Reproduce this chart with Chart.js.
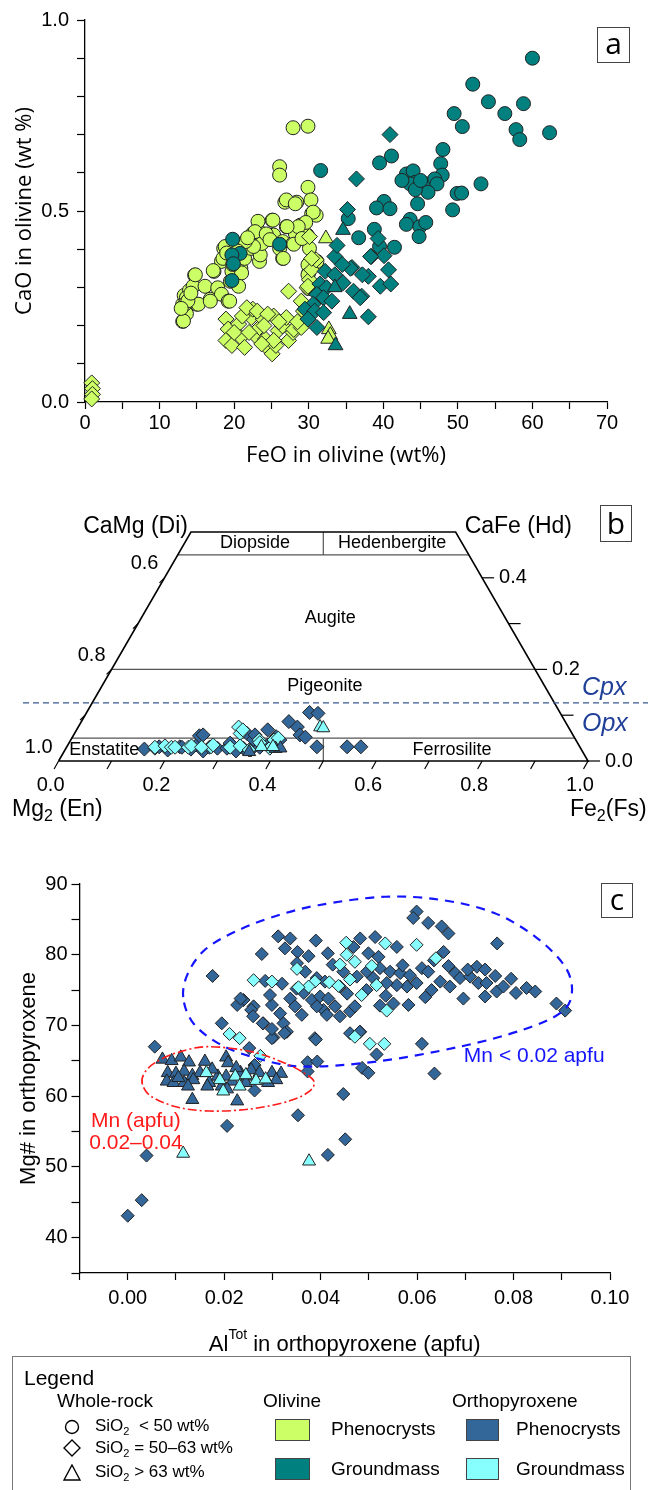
<!DOCTYPE html>
<html>
<head>
<meta charset="utf-8">
<script src="https://cdn.jsdelivr.net/npm/chart.js@4.4.1/dist/chart.umd.min.js"></script>
<style>
  body { margin: 0; background: #fff; }
  #page { position: relative; width: 656px; height: 1490px; overflow: hidden; font-family: "Liberation Sans", Arial, sans-serif; color: #000; }
  canvas { position: absolute; left: 0; }
  .tag { position: absolute; box-sizing: border-box; border: 1px solid #444; background: #fff; font-family: "Open Sans", sans-serif; font-size: 30px; text-align: center; }
  #legend { position: absolute; left: 12px; top: 1356px; width: 619px; height: 150px; box-sizing: border-box; border: 1.5px solid #777; }
  #legend div { position: absolute; white-space: nowrap; }
  .lt { font-size: 19px; line-height: 20px; }
  .sw { width: 35px; height: 22px; box-sizing: border-box; border: 1px solid #444; }
  .si { font-size: 17px; line-height: 18px; }
  .si sub { font-size: 11px; }
</style>
</head>
<body>
<div id="page">
  <canvas id="grafA" width="656" height="470" style="top:0"></canvas>
  <canvas id="grafB" width="656" height="360" style="top:470px"></canvas>
  <canvas id="grafC" width="656" height="530" style="top:830px"></canvas>

  <div class="tag" style="left:597px;top:27px;width:33px;height:36px;line-height:30px">a</div>
  <div class="tag" style="left:600px;top:505px;width:32px;height:37px;line-height:33px">b</div>
  <div class="tag" style="left:601px;top:883px;width:32px;height:35px;line-height:30px">c</div>

  <div id="legend">
    <div style="left:11px;top:9px;font-size:21px">Legend</div>
    <div class="lt" style="left:44px;top:34px">Whole-rock</div>
    <div style="left:50px;top:61px"><svg width="18" height="18"><circle cx="9" cy="9" r="6.5" fill="none" stroke="#000" stroke-width="1.4"/></svg></div>
    <div class="si" style="left:82px;top:60px">SiO<sub>2</sub>&nbsp;&nbsp;&lt; 50 wt%</div>
    <div style="left:50px;top:82px"><svg width="18" height="18"><polygon points="9,1 17,9 9,17 1,9" fill="none" stroke="#000" stroke-width="1.4"/></svg></div>
    <div class="si" style="left:82px;top:82px">SiO<sub>2</sub> = 50–63 wt%</div>
    <div style="left:50px;top:107px"><svg width="18" height="18"><polygon points="9,1 17,16 1,16" fill="none" stroke="#000" stroke-width="1.4"/></svg></div>
    <div class="si" style="left:82px;top:106px">SiO<sub>2</sub> &gt; 63 wt%</div>

    <div class="lt" style="left:250px;top:34px">Olivine</div>
    <div class="sw" style="left:262px;top:62px;background:#CCFF66"></div>
    <div class="lt" style="left:318px;top:62px">Phenocrysts</div>
    <div class="sw" style="left:262px;top:101px;background:#00807F"></div>
    <div class="lt" style="left:318px;top:102px">Groundmass</div>

    <div class="lt" style="left:439px;top:34px">Orthopyroxene</div>
    <div class="sw" style="left:453px;top:62px;width:33px;background:#336699"></div>
    <div class="lt" style="left:503px;top:62px">Phenocrysts</div>
    <div class="sw" style="left:453px;top:101px;width:33px;background:#88FFFF"></div>
    <div class="lt" style="left:503px;top:102px">Groundmass</div>
  </div>
</div>

<script>
// ---------- painel a: CaO x FeO na olivina ----------
const aOlPhenoCircle = [
  [13.1,0.211],[13.6,0.231],[13.1,0.256],[13.3,0.279],[14.0,0.292],[13.6,0.273],[15.0,0.256],[14.7,0.332],
  [14.5,0.303],[16.1,0.303],[16.8,0.269],[17.3,0.342],[17.8,0.299],[18.3,0.282],[18.3,0.368],[18.6,0.402],
  [19.2,0.264],[19.5,0.316],[19.7,0.342],[20.0,0.381],[20.3,0.411],[20.9,0.350],[21.4,0.376],[22.3,0.402],
  [22.8,0.420],[22.5,0.441],[23.3,0.447],[23.4,0.368],[23.5,0.385],[23.7,0.415],[25.1,0.476],[25.3,0.437],
  [26.5,0.376],[26.5,0.420],[27.0,0.459],[27.9,0.415],[28.2,0.441],[28.4,0.523],[28.9,0.463],[29.8,0.437],
  [30.1,0.402],[30.1,0.363],[30.0,0.338],[30.0,0.297],[30.4,0.493],[31.0,0.489],[26.8,0.523],
  [27.9,0.718],[29.9,0.722],[26.1,0.616],[26.1,0.594],[29.9,0.562],[27.0,0.529],[28.2,0.519],[30.3,0.529],
  [30.6,0.497],[29.6,0.470],[28.6,0.459],[27.1,0.459],[25.2,0.476],[23.2,0.473],[22.8,0.446],[22.6,0.407],
  [21.5,0.420],[18.8,0.407],[18.5,0.376],[26.1,0.402],[26.6,0.376],[28.0,0.413],[29.1,0.428],[29.9,0.359],
  [29.9,0.333],[31.1,0.368],[21.0,0.338],[20.6,0.303],[19.4,0.264],[17.2,0.344],[14.8,0.333],[13.4,0.256],
  [13.2,0.212],[15.2,0.256],[16.8,0.264],[13.8,0.265],[14.2,0.285],[12.9,0.245],[19.0,0.390],[20.5,0.395],
  [21.8,0.430],[24.3,0.440],[24.8,0.425],[19.8,0.360]
];
const aOlPhenoDiamond = [
  [18.9,0.217],[19.2,0.191],[18.9,0.161],[19.7,0.148],[20.6,0.204],[20.9,0.169],[21.4,0.143],[22.3,0.221],
  [22.5,0.243],[22.8,0.174],[23.4,0.195],[23.9,0.217],[24.2,0.165],[24.8,0.135],[25.1,0.126],[25.3,0.225],
  [25.6,0.148],[25.9,0.187],[26.5,0.199],[27.0,0.221],[27.3,0.161],[27.9,0.182],[28.0,0.190],[29.0,0.195],
  [27.3,0.290],[29.0,0.264],[29.3,0.238],[29.8,0.299],[30.1,0.320],[30.4,0.346],[31.0,0.372],[30.1,0.433],
  [21.1,0.225],[21.7,0.247],[23.1,0.238],[24.5,0.230],[25.3,0.161],[23.7,0.152],[20.0,0.182],[22.0,0.182],
  [26.0,0.210],[24.0,0.200],[28.5,0.210],[29.9,0.303],[30.4,0.376],
  [0.9,0.050],[1.0,0.035],[1.0,0.020],[0.9,0.008]
];
const aOlPhenoTri = [[32.3,0.428],[32.7,0.190],[32.9,0.175],[32.6,0.165]];
const aOlGmCircle = [
  [60.0,0.900],[52.0,0.832],[54.1,0.786],[58.8,0.781],[56.3,0.755],[49.5,0.755],[50.6,0.721],[57.8,0.713],
  [58.3,0.687],[62.3,0.705],[53.1,0.571],[49.9,0.546],[49.3,0.503],[48.0,0.661],[47.7,0.624],[47.9,0.594],
  [41.1,0.644],[39.5,0.626],[31.6,0.606],[43.1,0.597],[44.0,0.605],[44.3,0.575],[43.6,0.571],[44.9,0.567],
  [45.8,0.571],[46.9,0.584],[47.2,0.571],[46.0,0.549],[44.3,0.556],[50.5,0.547],[44.6,0.519],[40.1,0.525],
  [39.1,0.508],[40.9,0.506],[43.6,0.478],[43.1,0.465],[44.9,0.459],[45.7,0.470],[44.8,0.433],[35.3,0.480],
  [38.8,0.452],[36.7,0.430],[39.5,0.407],[41.5,0.405],[26.1,0.413],[19.8,0.426],[20.8,0.389],[19.7,0.385],
  [19.9,0.362],[19.7,0.318],[45.0,0.580],[42.5,0.580]
];
const aOlGmDiamond = [
  [40.9,0.700],[36.4,0.584],[35.2,0.504],[33.5,0.381],[38.4,0.381],[40.1,0.383],[40.7,0.346],[35.8,0.352],
  [32.2,0.342],[33.5,0.333],[34.6,0.312],[36.0,0.290],[37.1,0.277],[38.0,0.329],[37.2,0.333],[39.6,0.303],
  [41.0,0.309],[31.5,0.309],[32.4,0.299],[31.1,0.282],[32.0,0.273],[33.1,0.264],[30.6,0.256],[29.5,0.243],
  [30.8,0.238],[32.0,0.234],[29.9,0.217],[31.1,0.195],[38.0,0.223],[39.3,0.428],[35.6,0.350],[38.3,0.381],
  [36.9,0.273],[34.5,0.360],[33.8,0.410]
];
const aOlGmTri = [[34.6,0.450],[33.5,0.300],[35.5,0.230],[33.6,0.148]];
const aXTickLabels = [0, 10, 20, 30, 40, 50, 60, 70];
const aYTickLabels = [0, 0.5, 1.0];

// ---------- painel b: quadrilatero En-Fs-Di-Hd (x ao longo da base, Wo) ----------
const bOpxPhenoDia = [
  [0.162,0.026],[0.182,0.028],[0.190,0.031],[0.206,0.024],[0.229,0.031],[0.233,0.030],[0.261,0.035],[0.266,0.055],
  [0.273,0.057],[0.273,0.022],[0.300,0.028],[0.318,0.028],[0.324,0.039],[0.344,0.031],[0.349,0.028],[0.356,0.060],
  [0.363,0.024],[0.368,0.047],[0.371,0.057],[0.395,0.068],[0.395,0.035],[0.406,0.035],[0.411,0.053],[0.418,0.046],
  [0.435,0.086],[0.451,0.074],[0.456,0.057],[0.466,0.052],[0.474,0.106],[0.490,0.104],[0.488,0.031],[0.545,0.031],
  [0.571,0.031],[0.250,0.026],[0.285,0.030],[0.335,0.022],[0.380,0.030]
];
const bOpxGmDia = [
  [0.182,0.030],[0.201,0.033],[0.213,0.030],[0.220,0.030],[0.245,0.030],[0.251,0.033],[0.288,0.031],[0.292,0.035],
  [0.324,0.030],[0.340,0.074],[0.343,0.060],[0.348,0.068],[0.343,0.033],[0.360,0.024],[0.379,0.046],[0.380,0.040],
  [0.399,0.028],[0.407,0.046],[0.415,0.050],[0.270,0.030]
];
const bOpxPhenoTri = [[0.360,0.020],[0.410,0.027],[0.419,0.028]];
const bOpxGmTri = [[0.383,0.031],[0.405,0.031],[0.494,0.074],[0.500,0.072]];
const bBaseTickLabels = ['0.0', '0.2', '0.4', '0.6', '0.8', '1.0'];
const bLeftTickLabels = ['1.0', '0.8', '0.6'];   // Wo = 0, 0.2, 0.4
const bRightTickLabels = ['0.0', '0.2', '0.4'];  // Wo = 0, 0.2, 0.4
const bSideTickWo = [0, 0.1, 0.2, 0.3, 0.4];
const bFieldWo = [0.05, 0.2, 0.45];  // limites Enstatite/Pigeonite/Augite/Diopside
const bCpxOpxWo = 0.127;

// ---------- painel c: Mg# x Al total no ortopiroxenio ----------
const cOpxPhenoDia = [
  [0.0599,86.1],[0.0592,85.2],[0.0623,84.5],[0.0651,84.0],[0.0665,83.0],[0.0766,81.6],[0.0312,82.6],[0.0337,82.3],
  [0.0326,80.9],[0.0278,80.1],[0.0352,80.4],[0.0375,79.8],[0.0482,82.3],[0.0513,82.5],[0.0468,81.1],[0.0499,80.2],
  [0.0520,79.7],[0.0558,81.1],[0.0351,78.8],[0.0368,77.6],[0.0392,76.7],[0.0409,76.2],[0.0447,77.6],[0.0475,76.9],
  [0.0496,77.6],[0.0523,78.1],[0.0544,77.6],[0.0565,77.4],[0.0585,77.1],[0.0610,78.1],[0.0623,77.6],[0.0599,76.0],
  [0.0579,75.5],[0.0558,75.7],[0.0537,76.0],[0.0509,76.7],[0.0648,76.2],[0.0668,75.5],[0.0679,77.4],[0.0689,76.7],
  [0.0710,76.9],[0.0724,78.3],[0.0741,77.9],[0.0727,76.0],[0.0744,76.0],[0.0765,74.8],[0.0779,75.5],[0.0827,75.3],
  [0.0889,73.1],[0.0907,72.1],[0.0696,73.8],[0.0741,74.1],[0.0617,74.0],[0.0523,72.8],[0.0551,73.1],[0.0582,72.9],
  [0.0240,73.6],[0.0261,72.7],[0.0299,72.9],[0.0337,73.8],[0.0347,72.7],[0.0361,71.5],[0.0316,71.7],[0.0323,70.3],
  [0.0281,70.3],[0.0330,69.1],[0.0302,68.3],[0.0382,73.6],[0.0399,74.1],[0.0416,73.8],[0.0406,72.2],[0.0430,72.7],
  [0.0440,71.3],[0.0413,71.5],[0.0392,72.7],[0.0461,72.0],[0.0471,72.7],[0.0388,68.2],[0.0461,68.9],[0.0482,69.1],
  [0.0610,67.4],[0.0176,77.0],[0.0056,67.0],[0.0195,70.3],[0.0227,72.9],[0.0234,73.8],[0.0256,72.2],[0.0260,71.3],
  [0.0280,70.3],[0.0252,66.8],[0.0299,68.2],[0.0325,68.9],[0.0299,69.5],[0.0390,68.0],[0.0373,64.8],[0.0393,64.9],
  [0.0373,63.5],[0.0486,64.0],[0.0499,63.3],[0.0636,63.2],[0.0516,65.9],[0.0481,69.1],[0.0447,60.3],[0.0353,57.3],
  [0.0206,55.8],[0.0039,51.6],[0.0029,45.3],[0.0000,43.1],[0.0415,51.7],[0.0451,53.9],[0.0263,60.8],[0.0263,64.4],
  [0.0440,75.5],[0.0455,74.5],[0.0495,75.0],[0.0535,74.2],[0.0570,78.5],[0.0635,79.2],[0.0655,80.4],[0.0705,77.9],
  [0.0762,77.0],[0.0795,76.6],[0.0805,74.6],[0.0845,74.8],[0.0665,78.4],[0.0630,75.0],[0.0425,78.6],[0.0415,80.2],
  [0.0390,82.0],[0.0350,75.2],[0.0320,75.9],[0.0285,76.3],[0.0295,74.3],[0.0365,74.6]
];
const cOpxGmDia = [
  [0.0453,81.7],[0.0534,81.6],[0.0599,81.4],[0.0639,79.5],[0.0454,80.0],[0.0471,79.0],[0.0440,78.6],[0.0351,78.0],
  [0.0506,78.4],[0.0388,76.2],[0.0375,75.5],[0.0354,75.4],[0.0418,76.1],[0.0437,75.6],[0.0461,76.5],[0.0516,75.7],
  [0.0485,74.3],[0.0537,72.1],[0.0261,76.4],[0.0299,76.2],[0.0471,68.4],[0.0502,67.4],[0.0532,67.4],[0.0211,68.8],
  [0.0232,68.2],[0.0275,65.7]
];
const cOpxPhenoTri = [
  [0.0072,65.2],[0.0091,65.0],[0.0110,65.5],[0.0127,64.8],[0.0160,64.9],[0.0204,65.5],[0.0208,64.7],[0.0083,63.3],
  [0.0100,63.2],[0.0117,63.5],[0.0134,62.9],[0.0150,63.3],[0.0081,62.1],[0.0095,61.9],[0.0117,61.9],[0.0136,62.3],
  [0.0169,61.9],[0.0187,62.8],[0.0204,62.8],[0.0217,62.1],[0.0234,63.3],[0.0247,62.8],[0.0256,63.7],[0.0273,63.3],
  [0.0299,63.3],[0.0318,63.2],[0.0308,62.3],[0.0291,61.9],[0.0134,59.5],[0.0227,59.3],[0.0195,61.4],[0.0206,61.0],
  [0.0165,61.4],[0.0245,61.9],[0.0175,63.8],[0.0225,64.0],[0.0125,61.4],[0.0105,62.6]
];
const cOpxGmTri = [
  [0.0163,63.3],[0.0198,60.7],[0.0191,62.3],[0.0223,62.8],[0.0232,61.4],[0.0266,62.2],[0.0286,62.4],[0.0245,63.0],
  [0.0115,51.9],[0.0376,50.8]
];
// contornos tracejados
const cLowMnOutline = [
  [0.0115,74.0],[0.0125,77.4],[0.0160,80.7],[0.0221,83.2],[0.0299,85.3],[0.0395,87.0],[0.0534,88.2],[0.0655,87.7],
  [0.0760,85.9],[0.0846,82.5],[0.0907,78.3],[0.0921,74.6],[0.0898,71.8],[0.0820,69.4],[0.0689,67.0],[0.0516,64.9],
  [0.0359,64.2],[0.0256,65.6],[0.0187,67.5],[0.0135,70.4]
];
const cHighMnOutline = [
  [0.0030,61.8],[0.0035,63.3],[0.0056,64.7],[0.0100,66.1],[0.0165,67.0],[0.0256,66.3],[0.0325,64.7],[0.0365,63.3],
  [0.0386,62.1],[0.0377,60.7],[0.0334,59.3],[0.0256,58.2],[0.0169,57.9],[0.0100,58.5],[0.0048,60.0]
];
const cXTickLabels = [0, 0.02, 0.04, 0.06, 0.08, 0.10];
const cYTickLabels = [40, 50, 60, 70, 80, 90];

const corOlFeno = '#CCFF66';
const corOlMatriz = '#00807F';
const corOpxFeno = '#336699';
const corOpxMatriz = '#88FFFF';

function serie(dados, cor, forma, raio, ordem) {
  return {
    data: dados.map(([x, y]) => ({ x, y })),
    backgroundColor: cor,
    borderColor: '#222',
    borderWidth: 1,
    pointStyle: forma,
    pointRadius: raio,
    pointHoverRadius: raio,
    order: ordem,
    clip: false
  };
}

function eixo(o) {
  return {
    type: 'linear', min: o.min, max: o.max,
    ticks: {
      stepSize: o.step, autoSkip: false, maxRotation: 0, padding: o.pad, color: '#000',
      font: { family: 'Liberation Sans', size: o.fontSize },
      callback: (v) => o.labels.some((t) => Math.abs(t - v) < o.step / 100)
        ? (Math.abs(v) < 1e-9 ? 0 : v).toFixed(o.digits) : ''
    },
    grid: { drawOnChartArea: false, drawTicks: true, tickLength: o.tickLen, tickColor: '#000', tickWidth: 1.2 },
    border: { color: '#000', width: 1.3 },
    title: o.title || { display: false },
    afterFit: (s) => { if (s.isHorizontal()) s.height = o.size; else s.width = o.size; }
  };
}

const opcoesBase = {
  responsive: false,
  animation: false,
  devicePixelRatio: 1,
  plugins: { legend: { display: false }, tooltip: { enabled: false } },
  events: []
};

// ---------- grafico a ----------
new Chart(document.getElementById('grafA'), {
  type: 'scatter',
  data: {
    datasets: [
      serie(aOlPhenoCircle, corOlFeno, 'circle', 7, 6),
      serie(aOlPhenoDiamond, corOlFeno, 'rectRot', 8, 5),
      serie(aOlPhenoTri, corOlFeno, 'triangle', 8.5, 4),
      serie(aOlGmCircle, corOlMatriz, 'circle', 7, 3),
      serie(aOlGmDiamond, corOlMatriz, 'rectRot', 8, 2),
      serie(aOlGmTri, corOlMatriz, 'triangle', 8.5, 1)
    ]
  },
  options: {
    ...opcoesBase,
    layout: { padding: { top: 16, right: 49, left: 0, bottom: 0 } },
    scales: {
      x: eixo({ min: 0, max: 70, step: 5, labels: aXTickLabels, digits: 0, fontSize: 20, pad: 2, tickLen: 7, size: 68,
        title: { display: true, text: 'FeO in olivine (wt%)', color: '#000', font: { family: 'Open Sans', size: 22 }, padding: { top: 0, bottom: 1 } } }),
      y: eixo({ min: 0, max: 1, step: 0.1, labels: aYTickLabels, digits: 1, fontSize: 20, pad: 8, tickLen: 8, size: 85,
        title: { display: true, text: 'CaO in olivine (wt %)', color: '#000', font: { family: 'Open Sans', size: 22 }, padding: { top: 12, bottom: 0 } } })
    }
  }
});

// ---------- grafico b ----------
function linhaPx(ctx, pts) {
  ctx.beginPath();
  pts.forEach(([px, py], i) => (i ? ctx.lineTo(px, py) : ctx.moveTo(px, py)));
  ctx.stroke();
}

const molduraTernaria = {
  id: 'molduraTernaria',
  beforeDatasetsDraw(chart) {
    const { ctx, scales: { x, y } } = chart;
    const P = (X, W) => [x.getPixelForValue(X), y.getPixelForValue(W)];
    ctx.save();
    // linhas de campo
    ctx.strokeStyle = '#555';
    ctx.lineWidth = 1.2;
    bFieldWo.forEach((w) => linhaPx(ctx, [P(w / 2, w), P(1 - w / 2, w)]));
    linhaPx(ctx, [P(0.5, 0.45), P(0.5, 0.5)]);
    linhaPx(ctx, [P(0.5, 0), P(0.5, 0.05)]);
    // contorno
    ctx.strokeStyle = '#000';
    ctx.lineWidth = 1.6;
    linhaPx(ctx, [P(0, 0), P(0.25, 0.5), P(0.75, 0.5), P(1, 0), P(0, 0)]);
    // marcas da base (inclinadas)
    ctx.lineWidth = 1.2;
    for (let i = 0; i <= 10; i++) {
      const [px, py] = P(i / 10, 0);
      linhaPx(ctx, [[px, py], [px - 4.5, py + 8]]);
    }
    // marcas laterais
    bSideTickWo.forEach((w) => {
      const [lx, ly] = P(w / 2, w);
      if (w > 0) linhaPx(ctx, [[lx, ly], [lx - 5, ly + 5]]);
      const [rx, ry] = P(1 - w / 2, w);
      linhaPx(ctx, [[rx, ry], [rx + 12, ry]]);
    });
    // limite Cpx / Opx
    const yc = y.getPixelForValue(bCpxOpxWo);
    ctx.strokeStyle = '#3a5a90';
    ctx.lineWidth = 1.2;
    ctx.setLineDash([6, 4]);
    linhaPx(ctx, [[23, yc], [648, yc]]);
    ctx.setLineDash([]);
    ctx.restore();
  },
  afterDraw(chart) {
    const { ctx, scales: { x, y } } = chart;
    const P = (X, W) => [x.getPixelForValue(X), y.getPixelForValue(W)];
    ctx.save();
    ctx.fillStyle = '#000';
    ctx.textBaseline = 'middle';
    // rotulos da base
    ctx.font = '20px "Liberation Sans"';
    ctx.textAlign = 'center';
    bBaseTickLabels.forEach((t, i) => {
      const [px, py] = P(i * 0.2, 0);
      ctx.fillText(t, px - 8, py + 24);
    });
    // rotulos laterais
    ctx.textAlign = 'right';
    bLeftTickLabels.forEach((t, i) => {
      const w = i * 0.2;
      const [px, py] = P(w / 2, w);
      ctx.fillText(t, px - 6, py - 14);
    });
    ctx.textAlign = 'left';
    bRightTickLabels.forEach((t, i) => {
      const w = i * 0.2;
      const [px, py] = P(1 - w / 2, w);
      ctx.fillText(t, px + 17, py);
    });
    // vertices
    ctx.font = '23px "Liberation Sans"';
    let [px, py] = P(0.25, 0.5);
    ctx.textAlign = 'right';
    ctx.fillText('CaMg (Di)', px - 3, py - 5);
    [px, py] = P(0.75, 0.5);
    ctx.textAlign = 'left';
    ctx.fillText('CaFe (Hd)', px + 9, py - 5);
    // campos
    ctx.font = '18px "Liberation Sans"';
    ctx.textAlign = 'center';
    const campo = (t, X, W) => { const [a, b] = P(X, W); ctx.fillText(t, a, b); };
    campo('Diopside', 0.371, 0.475);
    campo('Hedenbergite', 0.63, 0.475);
    campo('Augite', 0.513, 0.3125);
    campo('Pigeonite', 0.503, 0.164);
    campo('Ferrosilite', 0.743, 0.024);
    ctx.textAlign = 'left';
    campo('Enstatite', 0.02, 0.024);
    // Mg2 (En) e Fe2 (Fs)
    const comIndice = (base, ind, resto, x0, y0) => {
      ctx.textAlign = 'left';
      ctx.font = '23px "Liberation Sans"';
      ctx.fillText(base, x0, y0);
      let w = ctx.measureText(base).width;
      ctx.font = '16px "Liberation Sans"';
      ctx.fillText(ind, x0 + w, y0 + 7);
      w += ctx.measureText(ind).width;
      ctx.font = '23px "Liberation Sans"';
      ctx.fillText(resto, x0 + w, y0);
    };
    comIndice('Mg', '2', ' (En)', 12, 340);
    comIndice('Fe', '2', '(Fs)', 570, 340);
    // Cpx / Opx
    ctx.font = 'italic 25px "Liberation Sans"';
    ctx.fillStyle = '#1f3f99';
    ctx.textAlign = 'left';
    ctx.fillText('Cpx', 582, y.getPixelForValue(0.16));
    ctx.fillText('Opx', 582, y.getPixelForValue(0.081));
    ctx.restore();
  }
};

new Chart(document.getElementById('grafB'), {
  type: 'scatter',
  data: {
    datasets: [
      serie(bOpxPhenoDia, corOpxFeno, 'rectRot', 7, 4),
      serie(bOpxGmDia, corOpxMatriz, 'rectRot', 7, 3),
      serie(bOpxPhenoTri, corOpxFeno, 'triangle', 7.5, 2),
      serie(bOpxGmTri, corOpxMatriz, 'triangle', 7.5, 1)
    ]
  },
  options: {
    ...opcoesBase,
    layout: { padding: { top: 62, left: 58.6, right: 68, bottom: 69 } },
    scales: {
      x: { type: 'linear', min: 0, max: 1, display: false },
      y: { type: 'linear', min: 0, max: 0.5, display: false }
    }
  },
  plugins: [molduraTernaria]
});

// ---------- grafico c ----------
function curvaFechada(ctx, pts) {
  const n = pts.length;
  ctx.beginPath();
  ctx.moveTo(pts[0][0], pts[0][1]);
  for (let i = 0; i < n; i++) {
    const p0 = pts[(i - 1 + n) % n], p1 = pts[i], p2 = pts[(i + 1) % n], p3 = pts[(i + 2) % n];
    ctx.bezierCurveTo(
      p1[0] + (p2[0] - p0[0]) / 6, p1[1] + (p2[1] - p0[1]) / 6,
      p2[0] - (p3[0] - p1[0]) / 6, p2[1] - (p3[1] - p1[1]) / 6,
      p2[0], p2[1]);
  }
  ctx.stroke();
}

const anotacoesC = {
  id: 'anotacoesC',
  afterDatasetsDraw(chart) {
    const { ctx, scales: { x, y }, chartArea } = chart;
    const P = ([a, b]) => [x.getPixelForValue(a), y.getPixelForValue(b)];
    ctx.save();
    ctx.strokeStyle = '#1414ff';
    ctx.lineWidth = 2.2;
    ctx.setLineDash([9, 7]);
    curvaFechada(ctx, cLowMnOutline.map(P));
    ctx.strokeStyle = '#ff1a1a';
    ctx.lineWidth = 1.6;
    ctx.setLineDash([9, 3, 2, 3]);
    curvaFechada(ctx, cHighMnOutline.map(P));
    ctx.setLineDash([]);
    ctx.textBaseline = 'middle';
    ctx.font = '21px "Liberation Sans"';
    ctx.fillStyle = '#1414ff';
    ctx.textAlign = 'left';
    ctx.fillText('Mn < 0.02 apfu', x.getPixelForValue(0.0697), y.getPixelForValue(65.6));
    ctx.fillStyle = '#ff1a1a';
    ctx.textAlign = 'center';
    ctx.fillText('Mn (apfu)', x.getPixelForValue(0.0017), y.getPixelForValue(56.4));
    ctx.fillText('0.02–0.04', x.getPixelForValue(0.0017), y.getPixelForValue(53.4));
    // titulo do eixo x com sobrescrito
    ctx.fillStyle = '#000';
    ctx.textAlign = 'left';
    ctx.textBaseline = 'alphabetic';
    const big = '22px "Liberation Sans"', small = '14px "Liberation Sans"';
    ctx.font = big; const w1 = ctx.measureText('Al').width;
    ctx.font = small; const w2 = ctx.measureText('Tot').width;
    ctx.font = big; const w3 = ctx.measureText(' in orthopyroxene (apfu)').width;
    const x0 = (chartArea.left + chartArea.right) / 2 - (w1 + w2 + w3) / 2;
    const yb = 521;
    ctx.fillText('Al', x0, yb);
    ctx.font = small; ctx.fillText('Tot', x0 + w1, yb - 12);
    ctx.font = big; ctx.fillText(' in orthopyroxene (apfu)', x0 + w1 + w2, yb);
    ctx.restore();
  }
};

new Chart(document.getElementById('grafC'), {
  type: 'scatter',
  data: {
    datasets: [
      serie(cOpxPhenoDia, corOpxFeno, 'rectRot', 6.5, 4),
      serie(cOpxGmDia, corOpxMatriz, 'rectRot', 6.5, 3),
      serie(cOpxPhenoTri, corOpxFeno, 'triangle', 7.5, 2),
      serie(cOpxGmTri, corOpxMatriz, 'triangle', 7.5, 1)
    ]
  },
  options: {
    ...opcoesBase,
    layout: { padding: { top: 54, right: 46, left: 0, bottom: 0 } },
    scales: {
      x: eixo({ min: -0.01, max: 0.10, step: 0.01, labels: cXTickLabels, digits: 2, fontSize: 20, pad: 6, tickLen: 7, size: 87 }),
      y: eixo({ min: 35, max: 90, step: 5, labels: cYTickLabels, digits: 0, fontSize: 20, pad: 4, tickLen: 8, size: 79.5,
        title: { display: true, text: 'Mg# in orthopyroxene', color: '#000', font: { family: 'Liberation Sans', size: 22 }, padding: { top: 16, bottom: 0 } } })
    }
  },
  plugins: [anotacoesC]
});
</script>
</body>
</html>
